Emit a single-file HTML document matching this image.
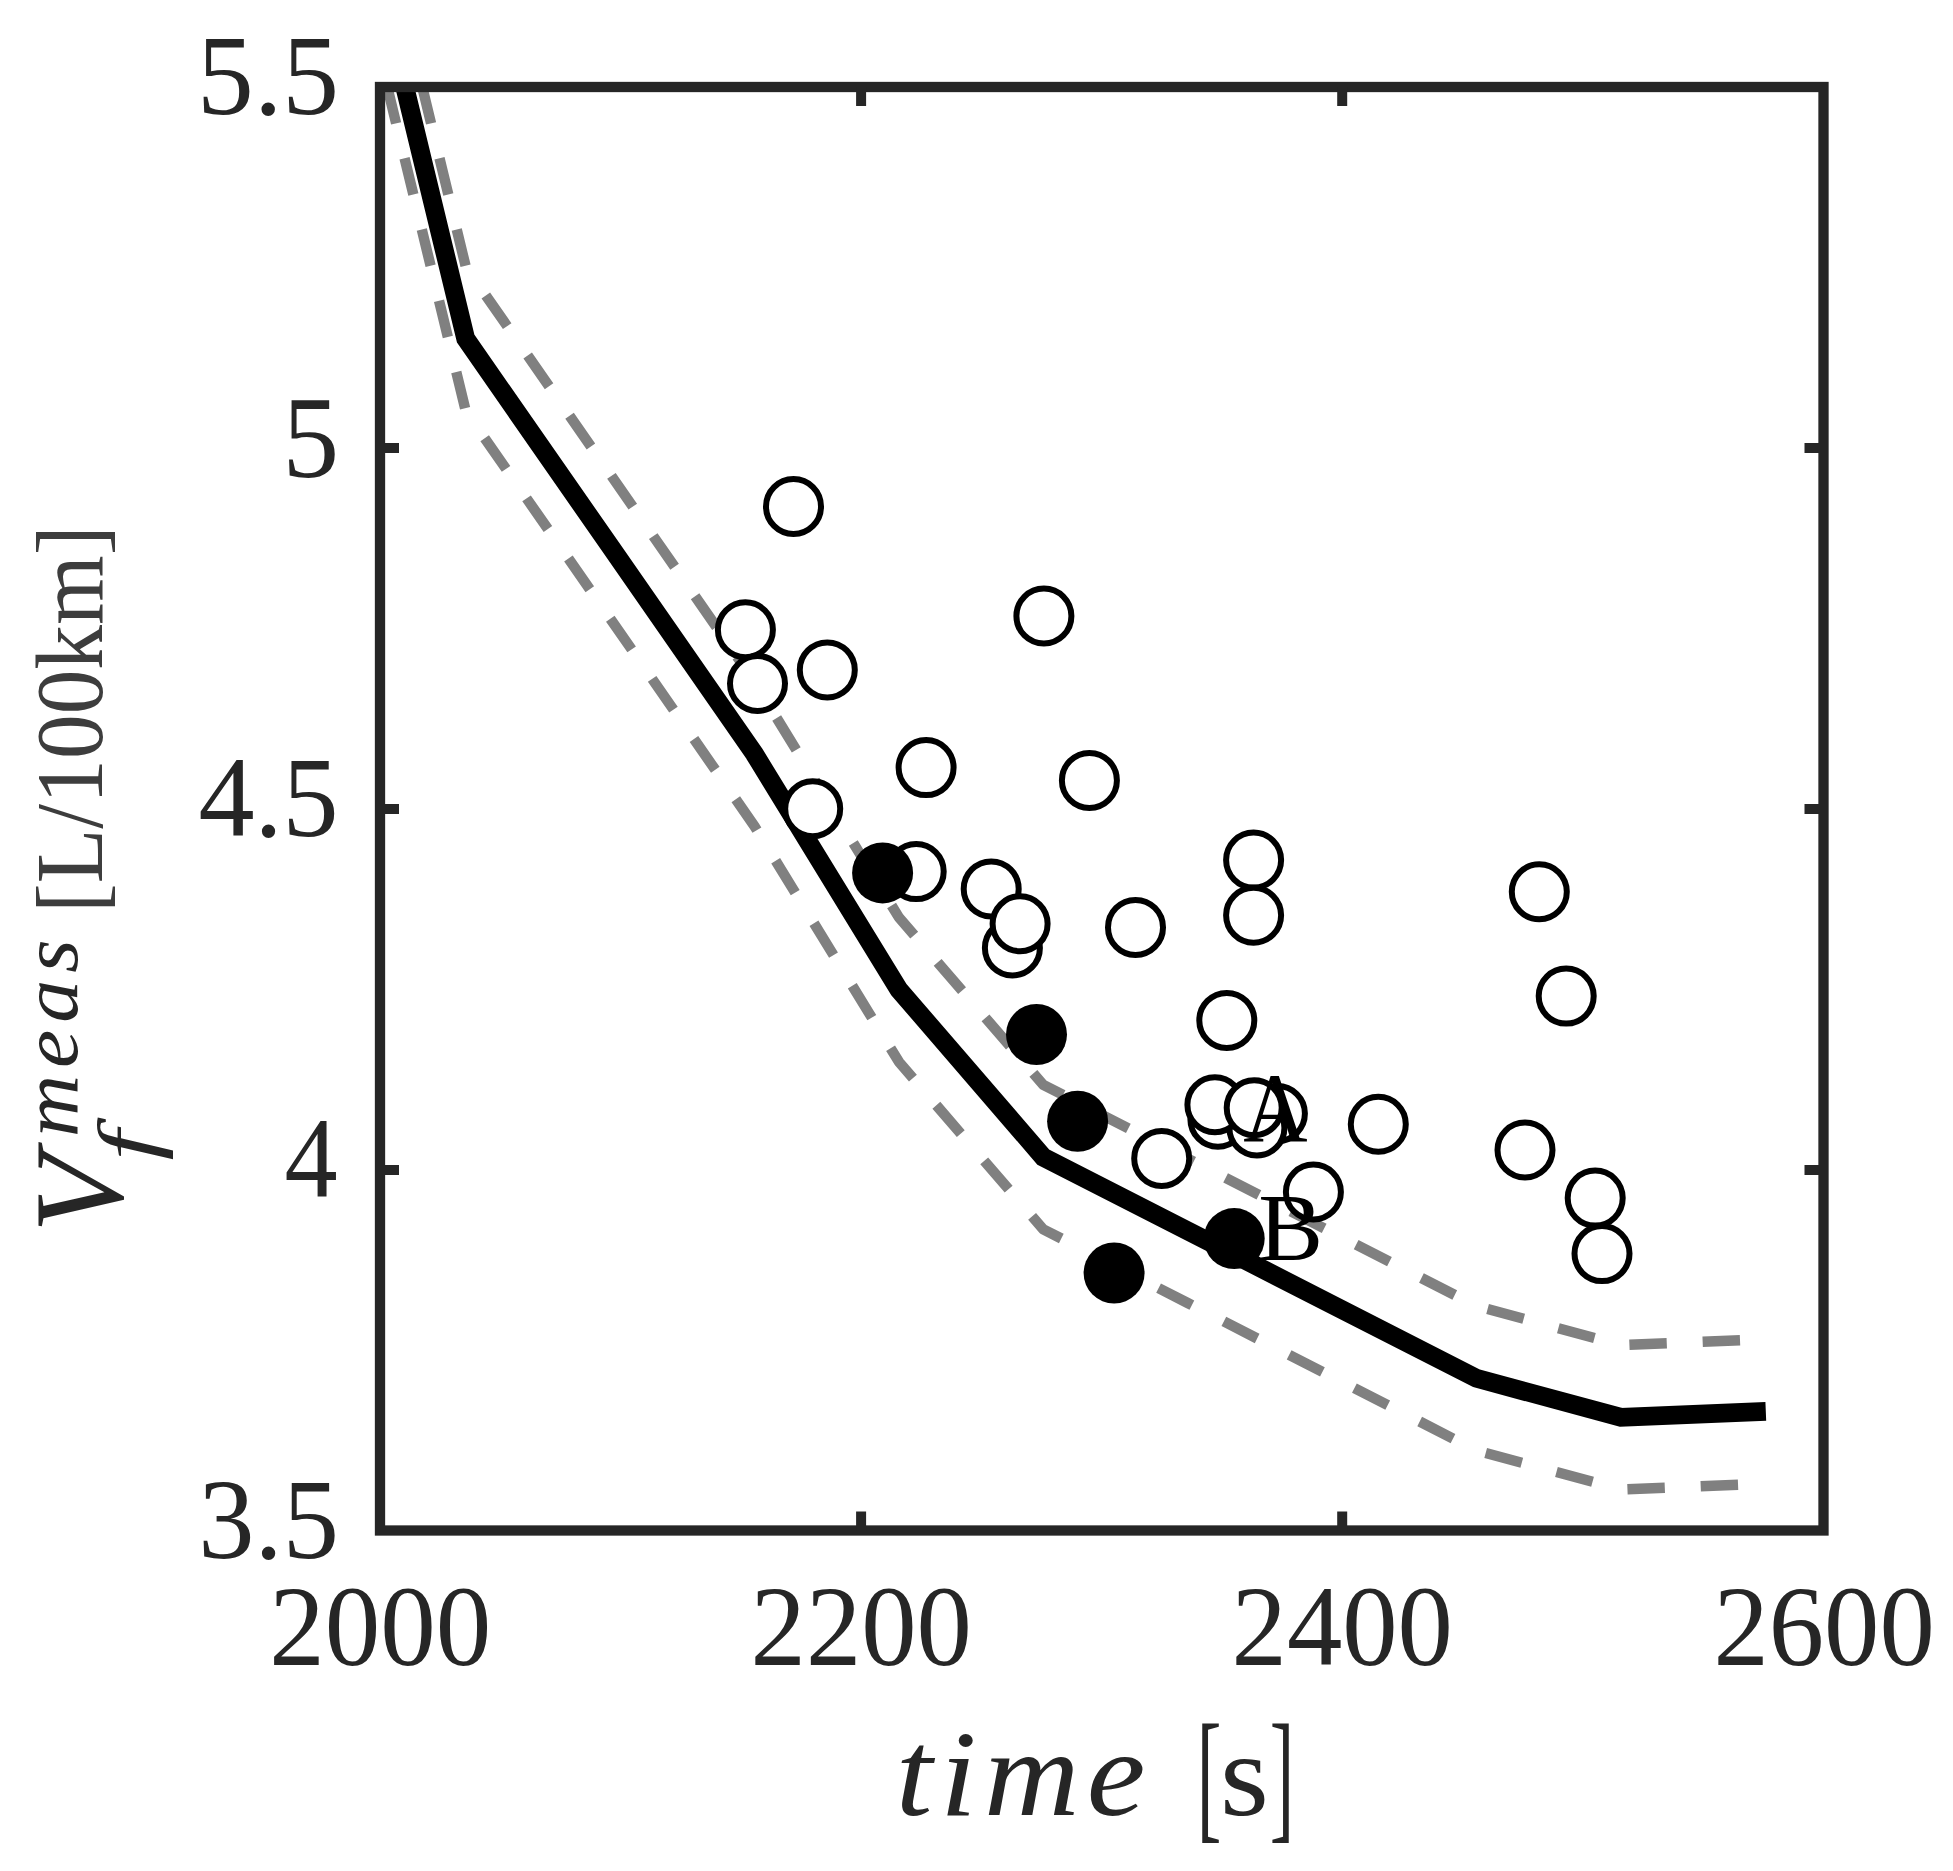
<!DOCTYPE html>
<html lang="en"><head><meta charset="utf-8"><title>Fuel consumption vs time</title>
<style>html,body{margin:0;padding:0;background:#fff}svg{display:block}</style></head>
<body>
<svg width="1953" height="1871" viewBox="0 0 1953 1871">
<rect width="1953" height="1871" fill="#fff"/>
<defs><clipPath id="c"><rect x="380.0" y="87.0" width="1443.5" height="1443.5"/></clipPath></defs>
<g clip-path="url(#c)">
<path d="M422.26 87 L465.7 266.5 L610.1 474 L754.5 681.8 L898.9 917.4 L1043.3 1084.9 L1187.7 1158.6 L1332.1 1232.4 L1476.5 1306.1 L1620.9 1345.1 L1765.8 1339.2" fill="none" stroke="#808080" stroke-width="10.4" stroke-dasharray="37.4 35.9" stroke-linejoin="round"/>
<path d="M387.32 87 L465.7 410.9 L610.1 618.4 L754.5 826.2 L898.9 1061.8 L1043.3 1229.3 L1187.7 1303 L1332.1 1376.8 L1476.5 1450.5 L1620.9 1489.5 L1765.8 1483.6" fill="none" stroke="#808080" stroke-width="10.4" stroke-dasharray="37.4 35.9" stroke-linejoin="round"/>
<path d="M399.95 67 L465.7 338.7 L610.1 546.2 L754.5 754 L898.9 989.6 L1043.3 1157.1 L1187.7 1230.8 L1332.1 1304.6 L1476.5 1378.3 L1620.9 1417.3 L1765.8 1411.4" fill="none" stroke="#000" stroke-width="18.8" stroke-linejoin="miter"/>
<g fill="#fff" stroke="#000" stroke-width="6.0">
<circle cx="793.5" cy="506.5" r="27.5"/>
<circle cx="745.4" cy="629.8" r="27.5"/>
<circle cx="757.5" cy="683.5" r="27.5"/>
<circle cx="827.3" cy="669.9" r="27.5"/>
<circle cx="926.1" cy="767.6" r="27.5"/>
<circle cx="812.7" cy="808.7" r="27.5"/>
<circle cx="1043.9" cy="616" r="27.5"/>
<circle cx="1089.4" cy="780.4" r="27.5"/>
<circle cx="916.2" cy="871.6" r="27.5"/>
<circle cx="991.2" cy="888.9" r="27.5"/>
<circle cx="1012.4" cy="947.9" r="27.5"/>
<circle cx="1020.1" cy="923.7" r="27.5"/>
<circle cx="1135.5" cy="927.4" r="27.5"/>
<circle cx="1253.6" cy="860.1" r="27.5"/>
<circle cx="1253.6" cy="915.2" r="27.5"/>
<circle cx="1226.8" cy="1020.4" r="27.5"/>
<circle cx="1161.7" cy="1158.4" r="27.5"/>
<circle cx="1277.4" cy="1113.6" r="27.5"/>
<circle cx="1217.9" cy="1119.3" r="27.5"/>
<circle cx="1256.9" cy="1127.9" r="27.5"/>
<circle cx="1214.9" cy="1104.7" r="27.5"/>
<circle cx="1254.2" cy="1107.7" r="27.5"/>
<circle cx="1313.4" cy="1192" r="27.5"/>
<circle cx="1378.3" cy="1124.2" r="27.5"/>
<circle cx="1525" cy="1150" r="27.5"/>
<circle cx="1595.2" cy="1198.1" r="27.5"/>
<circle cx="1602" cy="1253.6" r="27.5"/>
<circle cx="1539.3" cy="891.8" r="27.5"/>
<circle cx="1566.2" cy="996.1" r="27.5"/>
</g><g fill="#000">
<circle cx="882.6" cy="872.9" r="30.5"/>
<circle cx="1036.5" cy="1034.5" r="30.5"/>
<circle cx="1077.6" cy="1121.2" r="30.5"/>
<circle cx="1234.2" cy="1238.6" r="30.5"/>
<circle cx="1114.1" cy="1273" r="30.5"/>
</g></g>
<g stroke="#262626" stroke-width="10.3" fill="none">
<rect x="380.0" y="87.0" width="1443.5" height="1443.5"/>
<path d="M861.1 87.0v19.0M861.1 1530.5v-19.0M1342.2 87.0v19.0M1342.2 1530.5v-19.0M380.0 448.0h19.0M1823.5 448.0h-19.0M380.0 808.9h19.0M1823.5 808.9h-19.0M380.0 1170.0h19.0M1823.5 1170.0h-19.0" stroke-width="10"/>
</g>
<g font-family="'Liberation Serif', serif" fill="#262626">
<text transform="translate(269.2 1665.16) scale(0.9746 1)" font-size="113.93">2000</text>
<text transform="translate(750.62 1665.16) scale(0.9714 1)" font-size="113.93">2200</text>
<text transform="translate(1231.62 1665.16) scale(0.9714 1)" font-size="113.93">2400</text>
<text transform="translate(1713.52 1665.16) scale(0.9709 1)" font-size="113.93">2600</text>
<text transform="translate(197.06 114.48) scale(0.9890 1)" font-size="114.93">5.5</text>
<text transform="translate(282.49 476.54) scale(0.9734 1)" font-size="116.39">5</text>
<text transform="translate(198.56 836.28) scale(0.9765 1)" font-size="114.8">4.5</text>
<text transform="translate(284.48 1197) scale(0.9313 1)" font-size="114.07">4</text>
<text transform="translate(198.26 1557.9) scale(0.9900 1)" font-size="113.65">3.5</text>
<text transform="translate(895.85 1814.78) scale(1.0801 1)" font-size="122.38" font-style="italic" letter-spacing="6.8">time</text>
<text transform="translate(1196.74 1824.38) scale(0.5155 1)" font-size="143.86">[</text>
<text transform="translate(1269.83 1824.38) scale(0.5098 1)" font-size="143.86">]</text>
<text transform="translate(1219.97 1814.82) scale(1.0684 1)" font-size="117.71">s</text>
<text transform="translate(121.6 1232.96) rotate(-90) scale(1.0157 1)" font-size="126.72" font-style="italic">V</text>
<text transform="translate(154.95 1160.57) rotate(-90) scale(1.3181 1)" font-size="83.05" font-style="italic">f</text>
<text transform="translate(77.2 1137.02) rotate(-90) scale(1.0801 1)" font-size="79.58" font-style="italic" letter-spacing="6.5">meas</text>
<text transform="translate(101.72 913.11) rotate(-90) scale(0.9378 1)" font-size="95.39" fill="#3d3d3d">[L/100km]</text>
</g>
<g font-family="'Liberation Serif', serif" fill="#000">
<text transform="translate(1243.31 1141.7) scale(0.8908 1)" font-size="100">A</text>
<text transform="translate(1258.18 1259.76) scale(1.0192 1)" font-size="95.36">B</text>
</g>
</svg>
</body></html>
